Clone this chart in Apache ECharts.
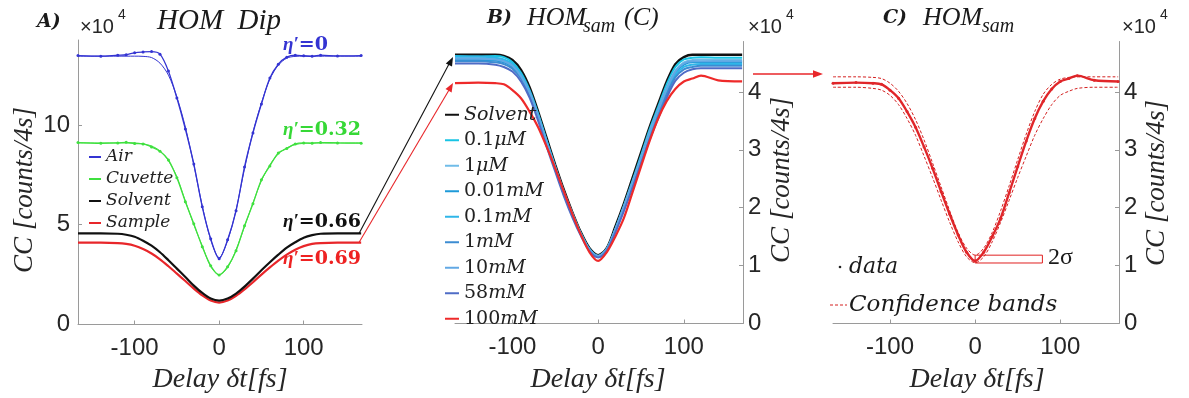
<!DOCTYPE html>
<html><head><meta charset="utf-8">
<script src="https://cdn.jsdelivr.net/npm/echarts@6/dist/echarts.min.js"></script>
<style>html,body{margin:0;padding:0;background:#fff}#c{width:1189px;height:398px}</style>
</head><body><div id="c"></div>
<script>
const T = [-167,-140,-120,-110,-100,-90,-80,-70,-60,-50,-40,-30,-20,-10,0,10,20,30,40,50,60,70,80,90,100,110,120,140,168];

// Panel A (x10^4 counts / 4 s)
const AIR_DATA = [13.48,13.45,13.5,13.52,13.62,13.66,13.68,13.55,12.7,11.35,9.8,8.05,5.9,4.3,3.3,4.25,5.7,7.9,9.6,11.05,12.35,13.05,13.4,13.5,13.47,13.44,13.5,13.46,13.48];
const AIR_FIT  = [13.45,13.45,13.45,13.45,13.45,13.44,13.38,13.1,12.5,11.4,9.9,8.0,5.95,4.25,3.35,4.2,5.75,7.8,9.65,11.1,12.3,13.0,13.35,13.44,13.45,13.45,13.45,13.45,13.45];
const CUV_DATA = [9.12,9.08,9.1,9.13,9.07,9.05,8.9,8.68,8.25,7.35,6.15,5.05,3.9,2.95,2.48,2.9,3.7,4.95,6.05,7.25,7.95,8.6,8.82,9.05,9.1,9.08,9.12,9.1,9.09];
const CUV_FIT  = [9.1,9.1,9.1,9.1,9.1,9.05,8.95,8.7,8.2,7.4,6.2,5.0,3.95,2.9,2.5,2.85,3.75,4.9,6.1,7.2,8.0,8.55,8.85,9.02,9.08,9.1,9.1,9.1,9.1];
const SOL_A    = [4.57,4.57,4.55,4.5,4.4,4.2,3.95,3.62,3.22,2.8,2.38,1.95,1.58,1.3,1.2,1.3,1.55,1.9,2.3,2.72,3.12,3.5,3.85,4.12,4.35,4.48,4.55,4.57,4.57];
const SAM_A    = [4.1,4.1,4.08,4.04,3.95,3.78,3.56,3.27,2.92,2.55,2.18,1.8,1.46,1.2,1.1,1.2,1.44,1.76,2.12,2.5,2.86,3.2,3.5,3.75,3.93,4.04,4.08,4.1,4.1];

// Panel B (x10^4)
const B_SOLV   = [4.64,4.64,4.64,4.62,4.55,4.38,4.08,3.66,3.2,2.74,2.31,1.92,1.57,1.3,1.18,1.3,1.67,2.07,2.51,2.95,3.39,3.79,4.18,4.48,4.6,4.64,4.64,4.64,4.64];
const B_01uM   = [4.62,4.61,4.62,4.6,4.51,4.33,4.03,3.62,3.15,2.7,2.28,1.9,1.55,1.28,1.16,1.28,1.63,2.03,2.46,2.9,3.35,3.74,4.13,4.43,4.56,4.59,4.6,4.59,4.59];
const B_1uM    = [4.59,4.59,4.58,4.55,4.47,4.29,4.0,3.59,3.13,2.68,2.26,1.89,1.54,1.28,1.17,1.29,1.62,2.02,2.44,2.87,3.31,3.7,4.07,4.37,4.51,4.55,4.56,4.55,4.55];
const B_001mM  = [4.55,4.55,4.54,4.51,4.43,4.25,3.96,3.56,3.1,2.66,2.24,1.87,1.54,1.27,1.16,1.28,1.61,2.0,2.42,2.85,3.28,3.67,4.03,4.33,4.47,4.51,4.51,4.51,4.51];
const B_01mM   = [4.61,4.61,4.59,4.56,4.48,4.3,4.01,3.6,3.15,2.7,2.26,1.89,1.54,1.28,1.16,1.28,1.61,1.99,2.4,2.83,3.25,3.64,4.0,4.29,4.43,4.47,4.48,4.48,4.48];
const B_1mM    = [4.53,4.53,4.51,4.48,4.4,4.23,3.94,3.54,3.09,2.66,2.23,1.86,1.53,1.26,1.15,1.27,1.59,1.97,2.38,2.81,3.23,3.6,3.96,4.25,4.39,4.43,4.45,4.45,4.45];
const B_10mM   = [4.57,4.57,4.56,4.53,4.45,4.27,3.99,3.58,3.12,2.68,2.25,1.87,1.54,1.27,1.16,1.28,1.62,2.01,2.43,2.85,3.29,3.68,4.05,4.35,4.49,4.53,4.53,4.53,4.53];
const B_58mM   = [4.49,4.49,4.47,4.43,4.35,4.18,3.9,3.5,3.05,2.62,2.2,1.83,1.51,1.25,1.14,1.26,1.57,1.94,2.34,2.76,3.17,3.54,3.9,4.19,4.33,4.39,4.41,4.41,4.41];
const B_100mM  = [4.15,4.16,4.15,4.13,4.03,3.89,3.66,3.39,3.05,2.68,2.28,1.89,1.53,1.23,1.08,1.23,1.5,1.82,2.26,2.71,3.15,3.54,3.84,4.05,4.18,4.23,4.28,4.2,4.18];

// Panel C (x10^4)
const C_DATA   = [4.15,4.16,4.15,4.13,4.03,3.89,3.66,3.39,3.05,2.68,2.28,1.89,1.53,1.23,1.08,1.23,1.5,1.82,2.26,2.71,3.15,3.54,3.84,4.05,4.18,4.23,4.28,4.2,4.18];
const C_UPPER  = [4.26,4.26,4.25,4.23,4.15,4.01,3.8,3.52,3.17,2.77,2.36,1.95,1.57,1.3,1.18,1.3,1.57,1.95,2.38,2.83,3.27,3.66,3.96,4.13,4.22,4.25,4.26,4.26,4.26];
const C_LOWER  = [4.08,4.08,4.06,4.03,3.94,3.78,3.54,3.25,2.89,2.52,2.13,1.75,1.41,1.15,1.05,1.15,1.41,1.75,2.13,2.52,2.89,3.25,3.54,3.78,3.94,4.01,4.06,4.08,4.08];
const SIGMA_BOX = [[0, 1.045], [79, 1.18]];

// Tick labels
const X_TICKS = [-100, 0, 100];
const YA_TICKS = [0, 5, 10];
const YBC_TICKS = [0, 1, 2, 3, 4];

const LEG_A = ['Air','Cuvette','Solvent','Sample'];
const LEG_B = ['Solvent','0.1μM','1μM','0.01mM','0.1mM','1mM','10mM','58mM','100mM'];
const X_NAME = 'Delay δt[fs]';
const Y_NAME = 'CC [counts/4s]';

const SERIF = "'DejaVu Serif', serif";
const SANS = "'Liberation Sans', Arial, sans-serif";
const AXC = '#9a9a9a';
const COL = {Air:'#3434d2', Cuvette:'#3fe03f', Solvent:'#111111', Sample:'#e8262a',
  '0.1μM':'#18c4e4','1μM':'#70bce8','0.01mM':'#1e9ad8','0.1mM':'#2fb6e8','1mM':'#3c8cd2',
  '10mM':'#62a8e4','58mM':'#4f6cc6','100mM':'#ee2a2a'};

const pairs = v => T.map((t, i) => [t, v[i]]);

function xa(gi) {
  return {
    type:'value', gridIndex:gi, min:-167, max:169,
    axisLine:{show:true, onZero:false, lineStyle:{color:AXC, width:1}},
    axisTick:{show:true, inside:true, length:4, customValues:X_TICKS, lineStyle:{color:AXC}},
    axisLabel:{customValues:X_TICKS, fontSize:24, fontFamily:SANS, color:'#262626', margin:12},
    splitLine:{show:false}
  };
}
function ya(gi, pos, max, ticks, margin) {
  return {
    type:'value', gridIndex:gi, position:pos, min:0, max:max,
    axisLine:{show:true, onZero:false, lineStyle:{color:AXC, width:1}},
    axisTick:{show:true, inside:true, length:4, customValues:ticks, lineStyle:{color:AXC}},
    axisLabel:{customValues:ticks, fontSize:24, fontFamily:SANS, color:'#262626', margin:margin},
    splitLine:{show:false}
  };
}
function line(name, gi, vals, color, width, extra) {
  return Object.assign({
    name:name, type:'line', xAxisIndex:gi, yAxisIndex:gi, data:pairs(vals),
    smooth:0.3, symbol:'none', lineStyle:{color:color, width:width},
    itemStyle:{color:color}, emphasis:{disabled:true}
  }, extra || {});
}

const series = [
  line('Air', 0, AIR_DATA, COL.Air, 1.3, {symbol:'circle', symbolSize:3}),
  line('Air fit', 0, AIR_FIT, COL.Air, 1),
  line('Cuvette', 0, CUV_DATA, COL.Cuvette, 1.3, {symbol:'circle', symbolSize:3}),
  line('Cuvette fit', 0, CUV_FIT, COL.Cuvette, 1),
  line('Sample', 0, SAM_A, COL.Sample, 2.2),
  line('Solvent', 0, SOL_A, COL.Solvent, 2.2),
  line('Solvent', 1, B_SOLV, COL.Solvent, 2.4),
  line('0.1μM', 1, B_01uM, COL['0.1μM'], 2),
  line('1μM', 1, B_1uM, COL['1μM'], 2),
  line('0.01mM', 1, B_001mM, COL['0.01mM'], 2),
  line('0.1mM', 1, B_01mM, COL['0.1mM'], 2),
  line('1mM', 1, B_1mM, COL['1mM'], 2),
  line('10mM', 1, B_10mM, COL['10mM'], 2),
  line('58mM', 1, B_58mM, COL['58mM'], 2),
  line('100mM', 1, B_100mM, COL['100mM'], 2.2),
  line('data', 2, C_DATA, '#e0262a', 2.4, {symbol:'circle', symbolSize:3,
    markArea:{silent:true, itemStyle:{color:'rgba(0,0,0,0)', borderColor:'#e02020', borderWidth:1},
      label:{show:false},
      data:[[{coord:SIGMA_BOX[0]}, {coord:SIGMA_BOX[1]}]]}}),
  line('Confidence bands', 2, C_UPPER, '#d42020', 1, {lineStyle:{color:'#d42020', width:1, type:[3,2]}}),
  line('Confidence bands', 2, C_LOWER, '#d42020', 1, {lineStyle:{color:'#d42020', width:1, type:[3,2]}})
];

function t(x, y, text, font, fill, extra) {
  return Object.assign({type:'text', x:x, y:y, silent:true,
    style:{text:text, font:font, fill:fill || '#1a1a1a', textVerticalAlign:'middle'}}, extra || {});
}
function xName(cx) { const g = t(cx, 380, X_NAME, "italic 28px 'Liberation Serif'", '#262626'); g.style.textAlign = 'center'; return g; }
function yName(cx, cy) { const g = t(cx, cy, Y_NAME, "italic 27px 'Liberation Serif'", '#262626', {rotation:Math.PI/2}); g.style.textAlign = 'center'; return g; }
const etaRich = c => ({a:{font:"italic bold 19px 'Liberation Serif'", fill:c}, b:{font:"bold 19px 'DejaVu Serif'", fill:c}});

const graphic = [
  // titles
  t(37, 22, 'A)', "italic bold 19px 'DejaVu Serif'"),
  t(80, 27, '×10', "20px 'Liberation Sans'", '#262626'),
  t(118, 15, '4', "14px 'Liberation Sans'", '#262626'),
  t(157, 21, 'HOM  Dip', "italic 29px 'Liberation Serif'"),
  t(487, 18, 'B)', "italic bold 19px 'DejaVu Serif'"),
  t(527, 18, 'HOM', "italic 26px 'Liberation Serif'"),
  t(583, 27, 'sam', "italic 20px 'Liberation Serif'"),
  t(624, 18, '(C)', "italic 26px 'Liberation Serif'"),
  t(748, 27, '×10', "20px 'Liberation Sans'", '#262626'),
  t(786, 15, '4', "14px 'Liberation Sans'", '#262626'),
  t(883, 18, 'C)', "italic bold 19px 'DejaVu Serif'"),
  t(923, 18, 'HOM', "italic 26px 'Liberation Serif'"),
  t(982, 27, 'sam', "italic 20px 'Liberation Serif'"),
  t(1122, 27, '×10', "20px 'Liberation Sans'", '#262626'),
  t(1160, 15, '4', "14px 'Liberation Sans'", '#262626'),
  // axis names
  xName(220), xName(598), xName(977),
  yName(25, 190), yName(782, 180), yName(1157, 183),
  // eta labels
  {type:'text', x:283, y:45, silent:true, style:{text:'{a|η′}{b|=0}', rich:etaRich('#3434d2'), textVerticalAlign:'middle'}},
  {type:'text', x:283, y:130, silent:true, style:{text:'{a|η′}{b|=0.32}', rich:etaRich('#36d836'), textVerticalAlign:'middle'}},
  {type:'text', x:283, y:222, silent:true, style:{text:'{a|η′}{b|=0.66}', rich:etaRich('#111'), textVerticalAlign:'middle'}},
  {type:'text', x:283, y:259, silent:true, style:{text:'{a|η′}{b|=0.69}', rich:etaRich('#ee2222'), textVerticalAlign:'middle'}},
  // arrows
  {type:'line', silent:true, shape:{x1:359, y1:233.5, x2:449, y2:64}, style:{stroke:'#111', lineWidth:1.1}},
  {type:'polygon', silent:true, shape:{points:[[453,57],[452,66.6],[445.8,63.4]]}, style:{fill:'#111'}},
  {type:'line', silent:true, shape:{x1:359, y1:242.5, x2:449, y2:90}, style:{stroke:'#e8262a', lineWidth:1.1}},
  {type:'polygon', silent:true, shape:{points:[[453,83],[451.6,92.5],[445.5,89.1]]}, style:{fill:'#e8262a'}},
  {type:'line', silent:true, shape:{x1:753, y1:74, x2:815, y2:74}, style:{stroke:'#e8262a', lineWidth:1.3}},
  {type:'polygon', silent:true, shape:{points:[[823,74],[813,70.3],[813,77.7]]}, style:{fill:'#e8262a'}},
  // 2σ label and legend C
  t(1048, 258, '2σ', "24px 'Liberation Serif'"),
  {type:'circle', silent:true, shape:{cx:840, cy:267, r:1.3}, style:{fill:'#222'}},
  t(849, 267, 'data', "italic 22px 'DejaVu Serif'"),
  {type:'line', silent:true, shape:{x1:830, y1:305, x2:847, y2:305}, style:{stroke:'#d42020', lineWidth:1, lineDash:[3,2]}},
  t(849, 305, 'Confidence bands', "italic 23px 'DejaVu Serif'")
];

const option = {
  animation:false,
  backgroundColor:'#ffffff',
  grid:[
    {left:78, top:40, width:284, height:284.5, outerBoundsMode:'none'},
    {left:455, top:41.5, width:288, height:282, outerBoundsMode:'none'},
    {left:833, top:41.5, width:286, height:282, outerBoundsMode:'none'}
  ],
  xAxis:[xa(0), xa(1), xa(2)],
  yAxis:[
    ya(0, 'left', 14.26, YA_TICKS, 8),
    ya(1, 'right', 4.87, YBC_TICKS, 5),
    ya(2, 'right', 4.87, YBC_TICKS, 5)
  ],
  legend:[
    {left:84, top:141, orient:'vertical', itemWidth:12, itemHeight:2, itemGap:0, icon:'rect',
     selectedMode:false, data:LEG_A,
     textStyle:{fontFamily:SERIF, fontStyle:'italic', fontSize:17, lineHeight:22, color:'#222'}},
    {left:440, top:97, orient:'vertical', itemWidth:14, itemHeight:2, itemGap:0, icon:'rect',
     selectedMode:false, data:LEG_B,
     formatter:function(n){ const m = n.match(/^([\d.]+)(.*)$/); return m ? '{n|' + m[1] + '}{u|' + m[2] + '}' : '{u|' + n + '}'; },
     textStyle:{lineHeight:25.5, rich:{
       n:{fontFamily:SERIF, fontSize:19, lineHeight:25.5, color:'#222'},
       u:{fontFamily:SERIF, fontStyle:'italic', fontSize:19, lineHeight:25.5, color:'#222'}}}}
  ],
  series:series,
  graphic:graphic
};

const chart = echarts.init(document.getElementById('c'), null, {renderer:'canvas'});
chart.setOption(option);
</script></body></html>
